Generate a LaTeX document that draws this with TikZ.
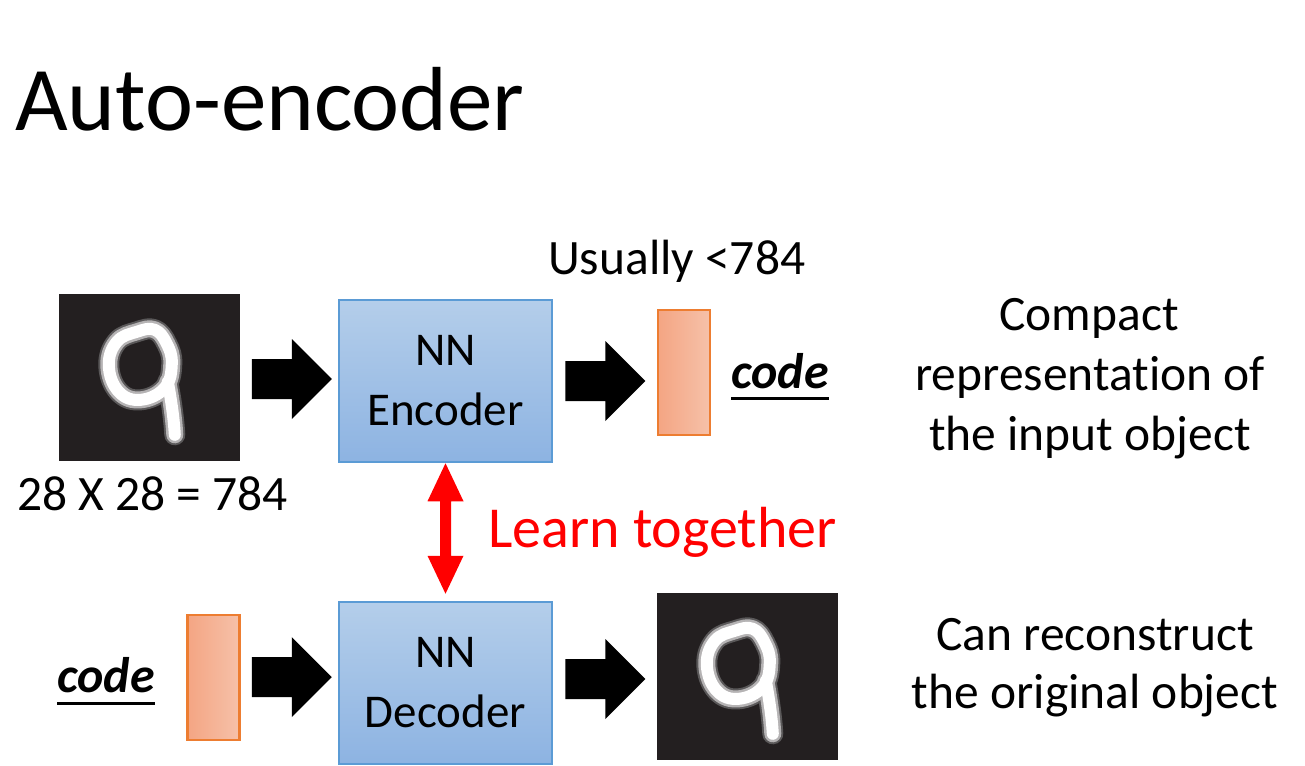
\documentclass[tikz,border=0pt]{standalone}
\usepackage{fontspec}
\setmainfont{Carlito}[Ligatures=NoCommon]
\usetikzlibrary{calc}
\definecolor{boxtop}{HTML}{B4CEEA}
\definecolor{boxbot}{HTML}{8DB3E2}
\definecolor{boxline}{HTML}{5B9BD5}
\definecolor{codeL}{HTML}{F4A583}
\definecolor{codeR}{HTML}{F6C1A9}
\definecolor{codeline}{HTML}{ED7D31}
\definecolor{imgbg}{HTML}{231F20}
\definecolor{haloA}{HTML}{5A5859}
\definecolor{haloB}{HTML}{B5B3B4}
\begin{document}
\begin{tikzpicture}[x=1pt,y=-1pt,
  nnbox/.style={draw=boxline, line width=2.5pt, top color=boxtop, bottom color=boxbot,
    minimum width=213, minimum height=162, inner sep=0pt, align=center,
    font=\fontsize{47}{60}\selectfont},
  codebar/.style={draw=codeline, line width=2.5pt, left color=codeL, right color=codeR,
    minimum width=52, minimum height=125, inner sep=0pt},
  digitimg/.style={fill=imgbg, minimum width=181, minimum height=167, inner sep=0pt},
  body/.style={font=\fontsize{49.5}{60}\selectfont, inner sep=0pt},
  codetxt/.style={font=\fontsize{50}{60}\selectfont\bfseries\itshape, inner sep=0pt, anchor=base west},
  barrow/.pic={\fill[black] (0,-20) -- (40,-20) -- (40,-40) -- (80,0) -- (40,40) -- (40,20) -- (0,20) -- cycle;},
  stroke9/.style={line join=round, line cap=round},
  digit/.pic={
    \foreach \w/\c in {21/haloA, 17/haloB, 12/white}{
      \draw[\c, line width=\w pt, stroke9] plot[smooth cycle, tension=0.7] coordinates
        {(78,38) (96,36) (108,50) (113,70) (106,94) (82,106) (60,98) (50,72) (58,48)};
      \draw[\c, line width=\w pt, stroke9] (109,88) .. controls (113,110) and (115,125) .. (116,141);
    }
  }
]
\useasboundingbox (0,0) rectangle (1305,765);
\fill[white] (0,0) rectangle (1305,765);

% title
\node[anchor=base west, inner sep=0pt, font=\fontsize{91}{100}\selectfont] (title) at (15,131) {Auto-encoder};

% top row
\node[digitimg] (img1) at (149.5,377.5) {};
\pic at (img1.north west) {digit};
\node[nnbox] (enc) at (445.5,381) {NN\\Encoder};
\node[codebar] (code1) at (684,372.5) {};
\node[codetxt] (c1) at (731,388) {code};
\draw[line width=3pt] ($(c1.south west)+(0,10)$) -- ($(c1.south east)+(0,10)$);
\node[body, anchor=base west] (usual) at (548,274) {Usually <784};
\node[body, anchor=base west] (dims) at (17,510) {28 X 28 = 784};

\pic at ($(enc.west)+(-86,-2)$) {barrow};
\pic at ($(enc.east)+(12,0)$) {barrow};

% bottom row
\node[nnbox] (dec) at (445.5,683) {NN\\Decoder};
\node[codebar] (code2) at (213.5,677.5) {};
\node[codetxt] (c2) at (57,692) {code};
\draw[line width=3pt] ($(c2.south west)+(0,11)$) -- ($(c2.south east)+(0,11)$);
\node[digitimg] (img2) at (747.5,676.5) {};
\pic at (img2.north west) {digit};

\pic at ($(dec.west)+(-86,-6)$) {barrow};
\pic at ($(dec.east)+(12,-4)$) {barrow};

% learn together
\coordinate (T) at (enc.south);
\coordinate (B) at ($(dec.north)+(0,-7)$);
\fill[red] (T) -- ++(18,38) -- ++(-12.5,0) -- ($(B)+(5.5,-38)$) -- ++(12.5,0)
  -- (B) -- ++(-18,-38) -- ++(12.5,0) -- ($(T)+(-5.5,38)$) -- ++(-12.5,0) -- cycle;
\node[anchor=base west, inner sep=0pt, text=red, font=\fontsize{58}{60}\selectfont] (learn) at (488,547) {Learn together};

% right descriptions
\node[body, anchor=base] (r1) at (1089,330) {Compact};
\node[body, anchor=base] (r2) at (1090,390) {representation of};
\node[body, anchor=base] (r3) at (1090,450) {the input object};
\node[body, anchor=base] (s1) at (1095,650) {Can reconstruct};
\node[body, anchor=base] (s2) at (1095,708) {the original object};
\end{tikzpicture}
\end{document}
